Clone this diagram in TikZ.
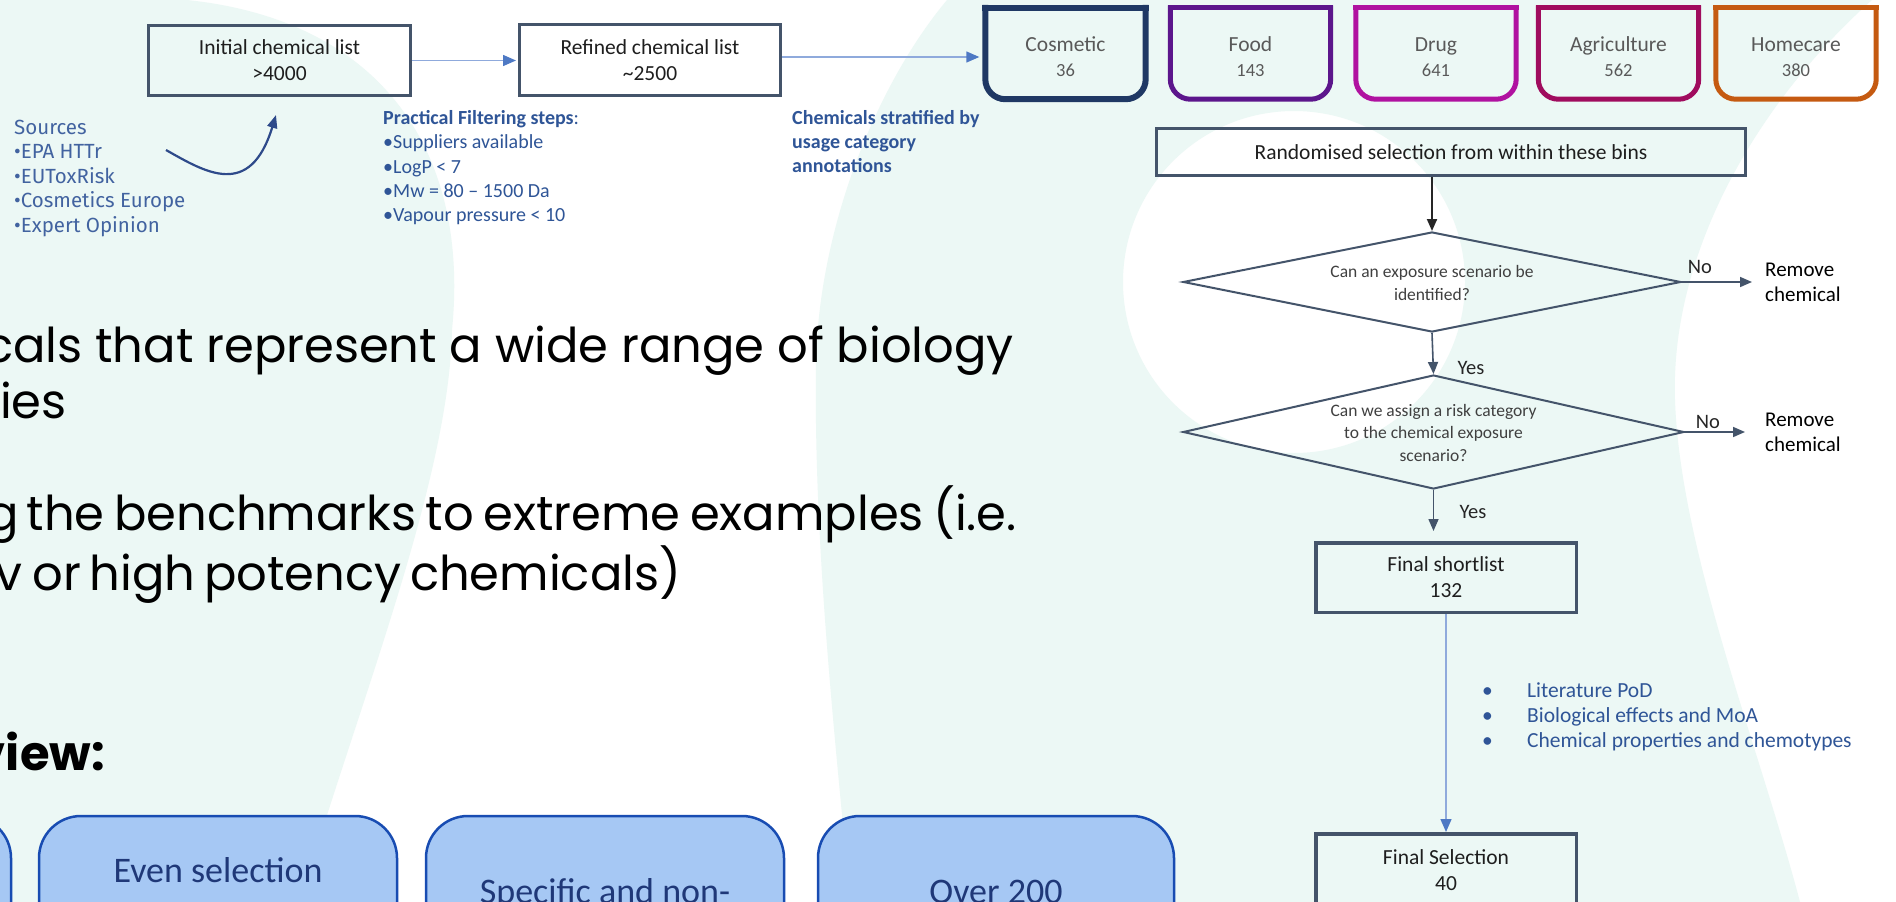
\documentclass[tikz,border=0pt]{standalone}
\usepackage{fontspec}
\setmainfont{Carlito}
\newfontfamily\srcfont{Fira Sans}
\newfontfamily\popfont{Poppins}
\usetikzlibrary{arrows.meta,shapes.geometric,calc}
\definecolor{mint}{RGB}{236,248,245}
\definecolor{slate}{RGB}{68,84,106}
\definecolor{txtdark}{RGB}{30,30,30}
\definecolor{catgrey}{RGB}{89,89,89}
\definecolor{navyc}{RGB}{31,56,100}
\definecolor{foodc}{RGB}{92,22,140}
\definecolor{drugc}{RGB}{176,18,160}
\definecolor{agric}{RGB}{160,12,94}
\definecolor{homec}{RGB}{197,90,17}
\definecolor{txtblue}{RGB}{47,85,151}
\definecolor{srcblue}{RGB}{66,99,160}
\definecolor{lightline}{RGB}{143,170,220}
\definecolor{lighthead}{RGB}{78,121,196}
\definecolor{arrdark}{RGB}{38,38,38}
\definecolor{srcarrc}{RGB}{46,74,138}
\definecolor{bfill}{RGB}{166,200,244}
\definecolor{bbord}{RGB}{24,76,178}
\definecolor{btext}{RGB}{31,56,120}
\definecolor{dtextc}{RGB}{64,64,64}
\tikzset{
  box/.style={draw=slate, line width=3pt, inner sep=0pt, align=center, text=txtdark, font=\fontsize{21.5}{26}\selectfont},
  cat/.style={inner sep=0pt, minimum width=160pt, minimum height=91pt},
  cattxt/.style={inner sep=0pt, align=center, text=catgrey, font=\fontsize{21.5}{25}\selectfont},
  catside/.style={rounded corners=20pt, line cap=rect, line join=miter},
  cattop/.style={line cap=rect},
  dia/.style={diamond, draw=slate, line width=2pt, inner sep=0pt},
  dtxt/.style={inner sep=0pt, align=center, text=dtextc, font=\fontsize{17.5}{22.5}\selectfont},
  lbl/.style={inner sep=0pt, text=arrdark, font=\fontsize{20.5}{24}\selectfont},
  remtxt/.style={anchor=west, inner sep=0pt, align=left, text=black, font=\fontsize{21}{25}\selectfont},
  lightarr/.style={draw=lightline, line width=1.4pt, -{Triangle[length=13pt,width=11pt,color=lighthead]}},
  darkarr/.style={draw=arrdark, line width=2pt, -{Triangle[length=12pt,width=10pt,color=arrdark]}},
  slarr/.style={draw=slate, line width=1.6pt, -{Triangle[length=12pt,width=10pt,color=slate]}},
  srcarr/.style={draw=srcarrc, line width=2.2pt, -{Triangle[length=13pt,width=10pt,color=srcarrc]}},
  bigtxt/.style={inner sep=0pt, text=black, font=\popfont\fontsize{48}{55}\selectfont},
  bbox/.style={draw=bbord, line width=2.5pt, fill=bfill, rounded corners=42pt, inner sep=0pt},
  btxt/.style={inner sep=0pt, text=btext, font=\fontsize{36}{42}\selectfont},
}
\begin{document}
\begin{tikzpicture}[x=1pt,y=-1pt]
\useasboundingbox (0,0) rectangle (1896,902);
\clip (0,0) rectangle (1896,902);
% background
\fill[white] (0,0) rectangle (1896,902);
\fill[mint] (0,0) -- (187,0) .. controls (380,20) and (470,150) .. (452,330)
  .. controls (449,480) and (360,700) .. (300,902) -- (0,902) -- cycle;
\fill[mint, even odd rule] (947,0) .. controls (880,80) and (820,220) .. (816,360)
  .. controls (813,560) and (840,780) .. (850,902) -- (1800,902)
  .. controls (1760,750) and (1680,550) .. (1675,400)
  .. controls (1670,250) and (1760,100) .. (1872,0) -- cycle
  (1294,282) circle[radius=171];

% top row
\node[box, minimum width=262pt, minimum height=70pt] (init) at (279.5,60.5) {Initial chemical list\\>4000};
\node[box, minimum width=261pt, minimum height=71pt] (refined) at (650,60) {Refined chemical list\\\textasciitilde2500};

\foreach \n/\x/\c/\w/\name/\num in {cosm/1065.5/navyc/6pt/Cosmetic/36, food/1250.5/foodc/5pt/Food/143, drug/1436/drugc/5pt/Drug/641, agri/1618.5/agric/5pt/Agriculture/562, home/1796/homec/5pt/Homecare/380}{
  \node[cat] (\n) at (\x,53.5) {};
  \node[cattxt] (\n t) at (\x,57) {\name\\\fontsize{18.5}{25}\selectfont \num};
  \draw[catside, draw=\c, line width=\w] (\n.north west) -- (\n.south west) -- (\n.south east) -- (\n.north east);
  \draw[cattop, draw=\c, line width=\w] (\n.north west) -- (\n.north east);
}

\draw[lightarr, shorten >=2pt] (init.east) -- (init.east -| refined.west);
\draw[lightarr, shorten >=6pt] ([yshift=3pt]refined.east) -- ([yshift=3pt]refined.east -| cosm.west);

% left annotations
\node[anchor=west, align=left, inner sep=0pt, text=srcblue, font=\srcfont\fontsize{20.5}{24.5}\selectfont] (src) at (14,178)
  {Sources\\•EPA HTTr\\•EUToxRisk\\•Cosmetics Europe\\•Expert Opinion};
\coordinate (srcA) at (166,150);
\coordinate (srcB) at (276,115);
\draw[srcarr] (srcA) .. controls (205,172) and (250,200) .. (srcB);

\node[anchor=west, align=left, inner sep=0pt, text=txtblue, font=\fontsize{20}{24.3}\selectfont] (filt) at (383,167.6)
  {\textbf{Practical Filtering steps}:\\•Suppliers available\\•LogP < 7\\•Mw = 80 – 1500 Da\\•Vapour pressure < 10};
\node[anchor=west, align=left, inner sep=0pt, text=txtblue, font=\bfseries\fontsize{20}{24}\selectfont] (strat) at (792,142)
  {Chemicals stratified by\\usage category\\annotations};

% flowchart
\node[box, minimum width=589pt, minimum height=47pt] (rand) at (1451,152) {Randomised selection from within these bins};
\node[dia, minimum width=498pt, minimum height=100pt] (d1) at (1432,282) {};
\node[dtxt] (d1t) at (1432,283) {Can an exposure scenario be\\identified?};
\node[dia, minimum width=501pt, minimum height=114pt] (d2) at (1433.5,432) {};
\node[dtxt] (d2t) at (1433.5,432.5) {Can we assign a risk category\\to the chemical exposure\\scenario?};

\node[remtxt] (rem1) at (1765,282.5) {Remove\\chemical};
\node[remtxt] (rem2) at (1765,432.5) {Remove\\chemical};
\node[lbl] (no1) at (1700,267) {No};
\node[lbl] (no2) at (1708,422) {No};
\node[lbl] (yes1) at (1471,368) {Yes};
\node[lbl] (yes2) at (1473,512) {Yes};

\node[box, line width=3.5pt, minimum width=260.5pt, minimum height=69.5pt] (short) at (1446,577.5) {Final shortlist\\132};
\node[box, line width=3.5pt, minimum width=260.5pt, minimum height=72pt] (sel) at (1446,869.75) {Final Selection\\40};

\draw[darkarr] (rand.south -| d1.north) -- (d1.north);
\draw[slarr] (d1.south) -- (d2.north);
\draw[slarr] (d1.east) -- ([xshift=-13pt]rem1.west |- d1.east);
\draw[slarr] (d2.east) -- ([xshift=-20pt]rem2.west |- d2.east);
\draw[slarr] (d2.south) -- ([yshift=10pt]d2.south |- short.north);
\draw[lightarr] (short.south) -- (sel.north);

\node[anchor=west, align=left, inner sep=0pt, text=txtblue, font=\fontsize{21.5}{25}\selectfont] (lit) at (1482,717)
  {\makebox[45pt][l]{•}Literature PoD\\\makebox[45pt][l]{•}Biological effects and MoA\\\makebox[45pt][l]{•}Chemical properties and chemotypes};

% big left text
\node[bigtxt, anchor=base east] (b1) at (1014,362) {cals that represent a wide range of biology};
\node[bigtxt, anchor=base east] (b2) at (67,418) {ies};
\node[bigtxt, anchor=base east] (b3) at (1017,530) {g\hspace{8pt}\makebox[990pt][s]{the benchmarks to extreme examples (i.e.}};
\node[bigtxt, anchor=base east] (b4) at (677,590) {v\hspace{10pt}\makebox[644pt][s]{or high potency chemicals)}};
\node[bigtxt, anchor=base east, font=\popfont\bfseries\fontsize{48}{55}\selectfont] (view) at (105,770) {view:};

% bottom boxes
\node[bbox, minimum width=351pt, minimum height=170pt] (bx1) at (-164.5,901) {};
\node[bbox, minimum width=358pt, minimum height=170pt] (bx2) at (218,901) {};
\node[bbox, minimum width=358pt, minimum height=170pt] (bx3) at (605,901) {};
\node[bbox, minimum width=356pt, minimum height=170pt] (bx4) at (996,901) {};
\node[btxt, anchor=base] (bx2t) at (218,882) {Even selection};
\node[btxt, anchor=base] (bx3t) at (605,903) {Specific and non-};
\node[btxt, anchor=base] (bx4t) at (996,903) {Over 200};
\end{tikzpicture}
\end{document}
